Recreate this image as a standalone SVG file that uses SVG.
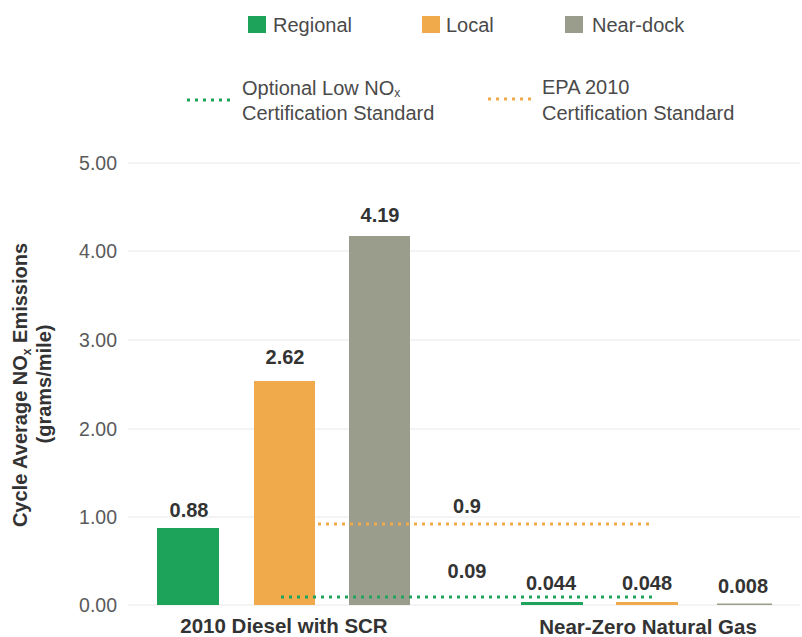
<svg xmlns="http://www.w3.org/2000/svg" width="802" height="637" viewBox="0 0 802 637">
<style>
text{font-family:"Liberation Sans",Arial,sans-serif;fill:#3a3a3a}
.tick{font-size:19.5px;text-anchor:end;fill:#5a5a5a}
.leg{font-size:20px;fill:#4a4a4a}
.val{font-size:20px;font-weight:bold;text-anchor:middle;fill:#333}
.cat{font-size:20.5px;font-weight:bold;text-anchor:middle;fill:#333}
.ttl{font-size:20px;font-weight:bold;text-anchor:middle;fill:#333}
.grid{stroke:#e8e8e8;stroke-width:1}
.g{fill:#1ea35a}.o{fill:#f0a94b}.n{fill:#9b9d8c}
.dotg{stroke:#1ea35a;stroke-width:3;stroke-dasharray:3 5}
.doto{stroke:#f0a94b;stroke-width:3;stroke-dasharray:3 5}
</style>
<rect width="802" height="637" fill="#fff"/>
<g id="legend">
<rect class="g" x="248" y="16" width="18" height="17"/><text class="leg" x="273" y="32">Regional</text>
<rect class="o" x="422" y="16" width="18" height="17"/><text class="leg" x="446" y="32">Local</text>
<rect class="n" x="565" y="16" width="18" height="17"/><text class="leg" x="592" y="32">Near-dock</text>
<line class="dotg" x1="187" y1="100" x2="233" y2="100"/>
<text class="leg" x="242" y="95">Optional Low NO<tspan font-size="12" dy="2">x</tspan></text>
<text class="leg" x="242" y="120">Certification Standard</text>
<line class="doto" x1="488" y1="99" x2="536" y2="99"/>
<text class="leg" x="542" y="94">EPA 2010</text>
<text class="leg" x="542" y="120">Certification Standard</text>
</g>
<g id="axis">
<line class="grid" x1="128" y1="163" x2="800" y2="163"/>
<line class="grid" x1="128" y1="251" x2="800" y2="251"/>
<line class="grid" x1="128" y1="340" x2="800" y2="340"/>
<line class="grid" x1="128" y1="429" x2="800" y2="429"/>
<line class="grid" x1="128" y1="517" x2="800" y2="517"/>
<line class="grid" x1="128" y1="605" x2="800" y2="605"/>
<text class="tick" x="117" y="170">5.00</text>
<text class="tick" x="117" y="258">4.00</text>
<text class="tick" x="117" y="347">3.00</text>
<text class="tick" x="117" y="436">2.00</text>
<text class="tick" x="117" y="524">1.00</text>
<text class="tick" x="117" y="612">0.00</text>
<text class="ttl" transform="translate(27,385) rotate(-90)">Cycle Average NO<tspan font-size="12" dy="4">x</tspan><tspan dy="-4"> Emissions</tspan></text>
<text class="ttl" transform="translate(51,384) rotate(-90)">(grams/mile)</text>
</g>
<g id="bars">
<rect class="g" x="157" y="528" width="62" height="77"/>
<rect class="o" x="254" y="381" width="61" height="224"/>
<rect class="n" x="349" y="236" width="61" height="369"/>
<rect class="g" x="521" y="602" width="62" height="3"/>
<rect class="o" x="616" y="602" width="62" height="3"/>
<rect class="n" x="717" y="603.5" width="55" height="1.5"/>
</g>
<g id="connectors">
<line class="doto" x1="318" y1="524" x2="652" y2="524"/>
<line class="dotg" x1="281" y1="597" x2="652" y2="597"/>
</g>
<g id="labels">
<text class="val" x="189" y="517">0.88</text>
<text class="val" x="285" y="364">2.62</text>
<text class="val" x="380" y="222">4.19</text>
<text class="val" x="467" y="513">0.9</text>
<text class="val" x="467" y="578">0.09</text>
<text class="val" x="551" y="590">0.044</text>
<text class="val" x="647" y="590">0.048</text>
<text class="val" x="743" y="593">0.008</text>
<text class="cat" x="284" y="633">2010 Diesel with SCR</text>
<text class="cat" x="648" y="634">Near-Zero Natural Gas</text>
</g>
</svg>
